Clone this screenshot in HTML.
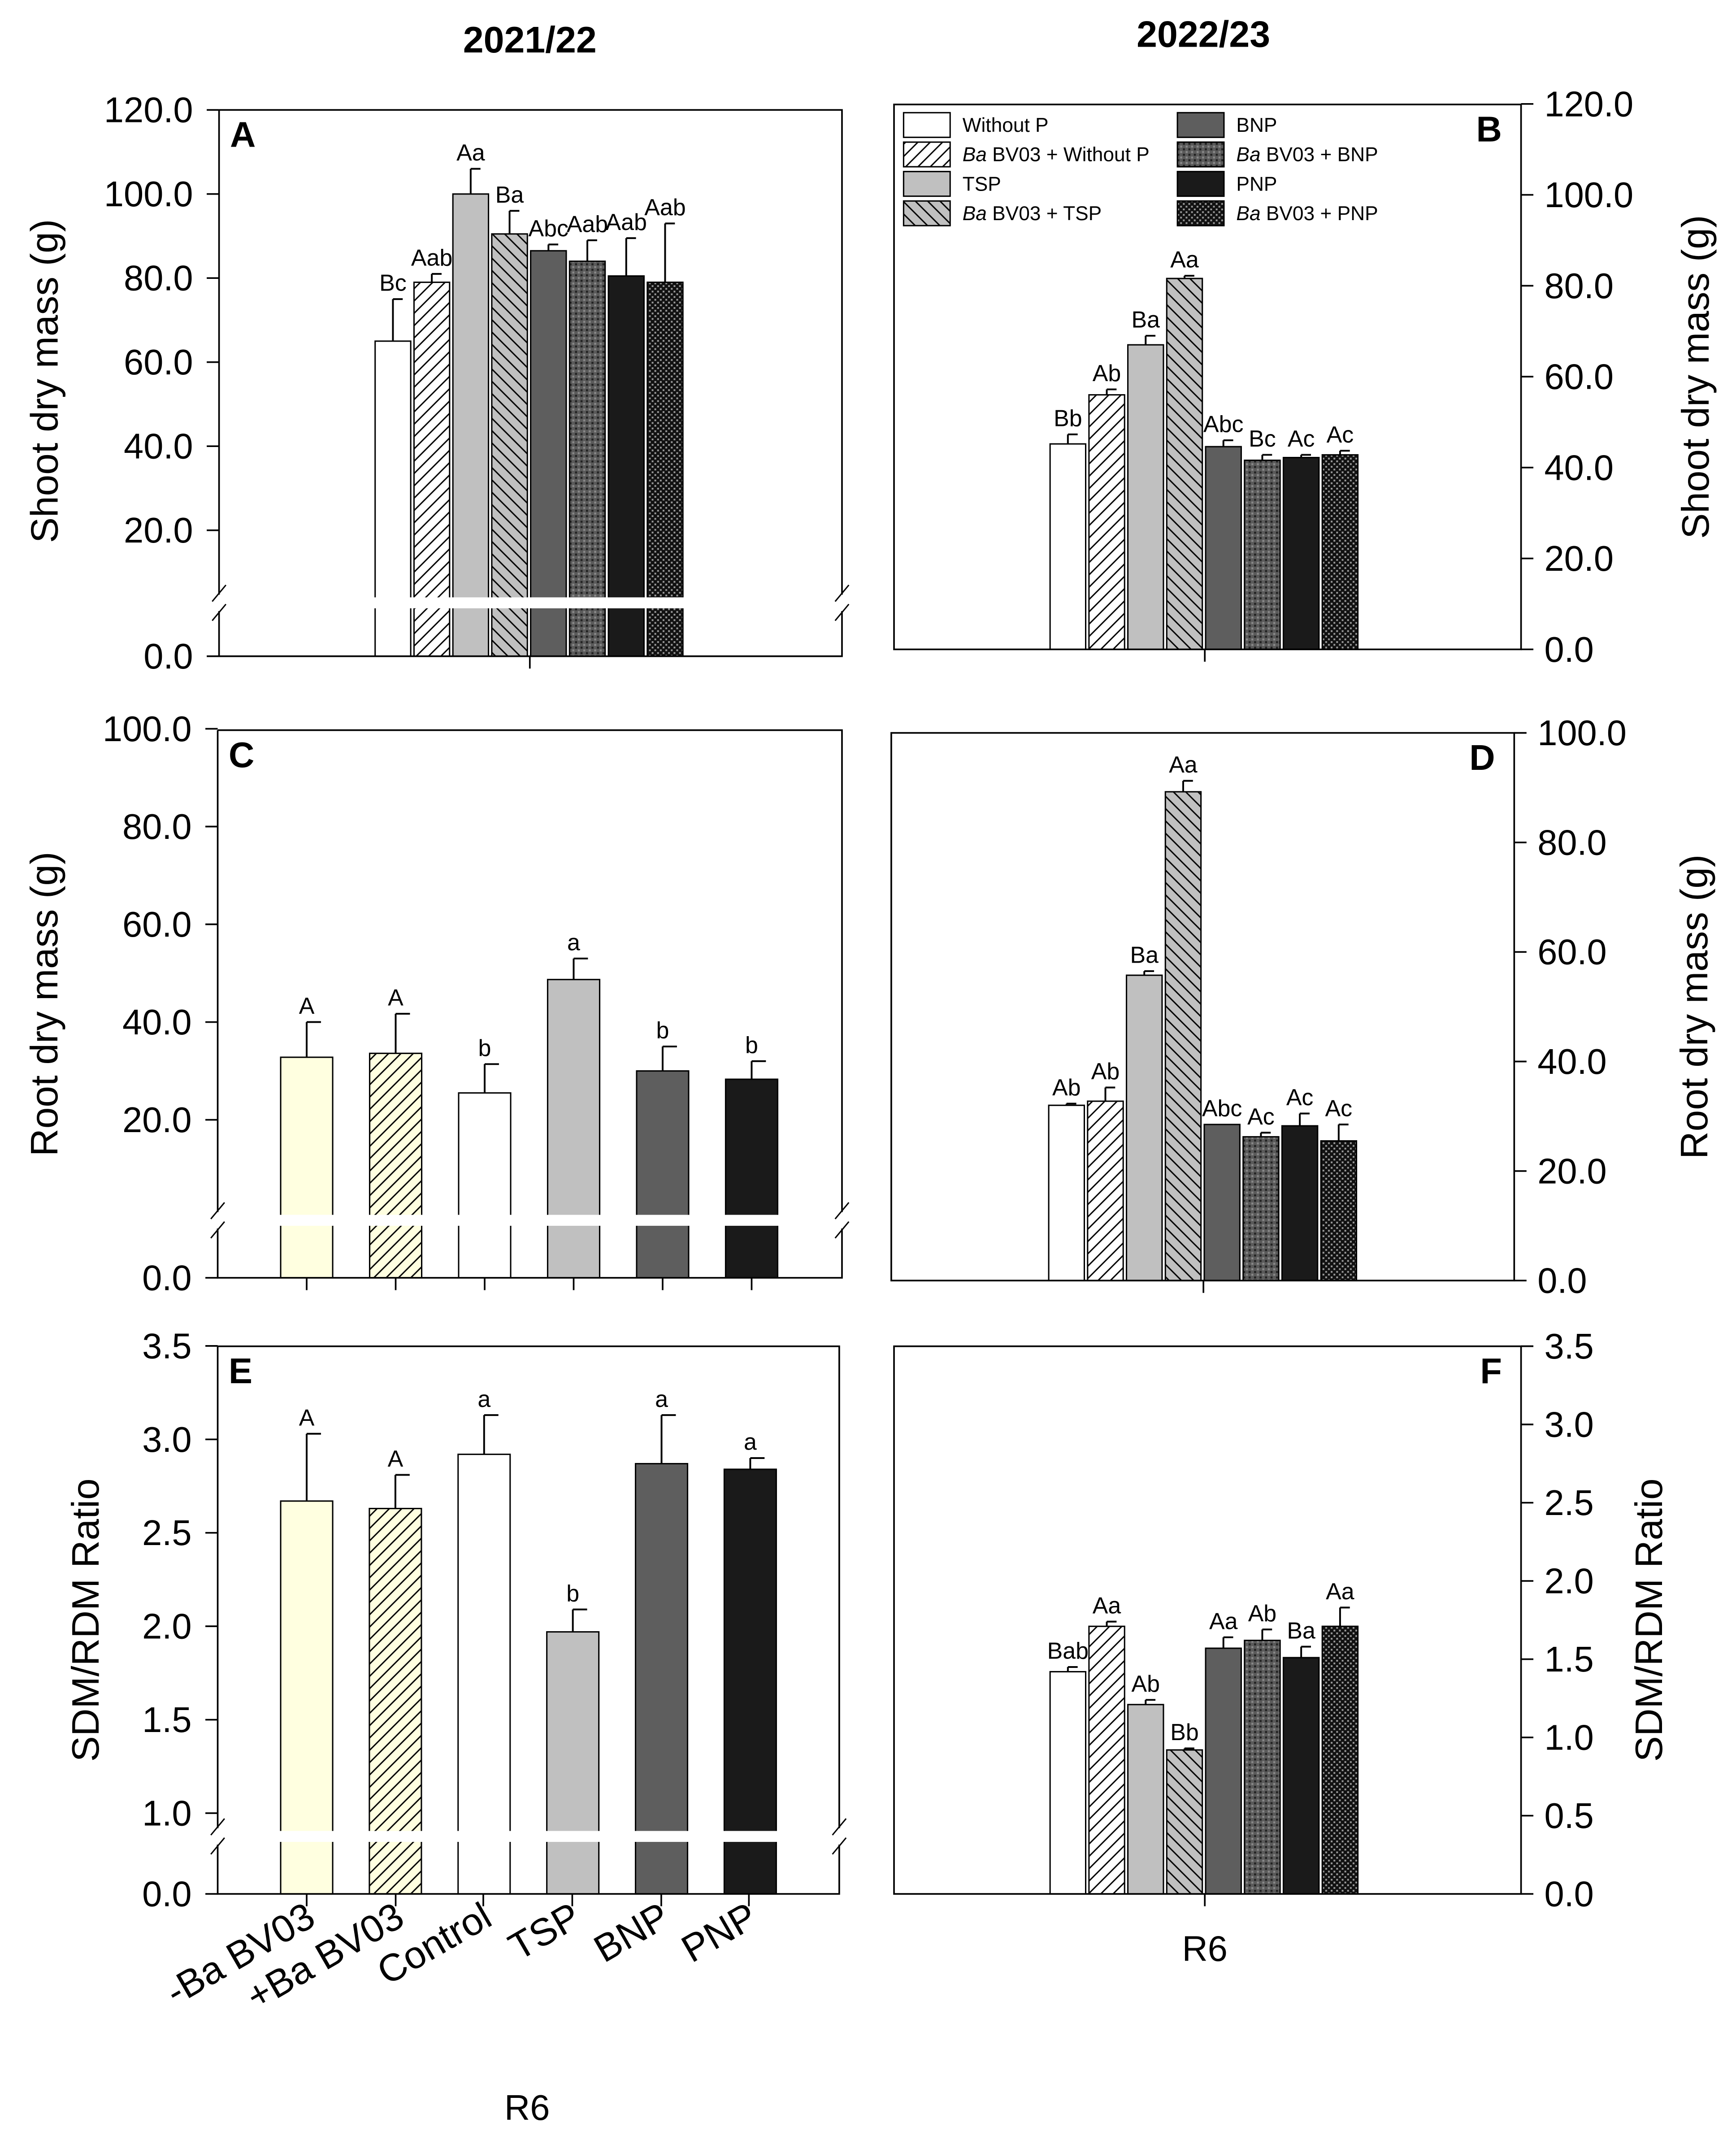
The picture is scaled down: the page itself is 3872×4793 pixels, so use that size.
<!DOCTYPE html>
<html><head><meta charset="utf-8"><style>
html,body{margin:0;padding:0;background:#fff}
svg{display:block}
text{font-family:"Liberation Sans",Arial,sans-serif}
</style></head><body>
<svg id="chart" xmlns="http://www.w3.org/2000/svg" width="3872" height="4793" viewBox="0 0 1268 1569">
<defs>
<pattern id="hatchF" patternUnits="userSpaceOnUse" width="9" height="9"><rect width="9" height="9" fill="#fff"/><path d="M-2,11 L11,-2 M-2,2 L2,-2 M7,11 L11,7" stroke="#000" stroke-width="1"/></pattern>
<pattern id="hatchY" patternUnits="userSpaceOnUse" width="9" height="9"><rect width="9" height="9" fill="#ffffe0"/><path d="M-2,11 L11,-2 M-2,2 L2,-2 M7,11 L11,7" stroke="#000" stroke-width="1"/></pattern>
<pattern id="hatchB" patternUnits="userSpaceOnUse" width="9" height="9"><rect width="9" height="9" fill="#c0c0c0"/><path d="M-2,-2 L11,11 M-2,7 L2,11 M7,-2 L11,2" stroke="#000" stroke-width="1"/></pattern>
<pattern id="dotG" patternUnits="userSpaceOnUse" width="4" height="4"><rect width="4" height="4" fill="#5a5a5a"/><rect x="0" y="0" width="1.5" height="1.5" fill="#222"/><rect x="2" y="2" width="1.5" height="1.5" fill="#888"/></pattern>
<pattern id="dotK" patternUnits="userSpaceOnUse" width="4" height="4"><rect width="4" height="4" fill="#111"/><rect x="0" y="0" width="1.3" height="1.3" fill="#999"/><rect x="2" y="2" width="1.3" height="1.3" fill="#999"/></pattern>
</defs>
<g id="root"></g>
</svg>
<script>
// ---- data ----
const catsA = ["Without P","Ba BV03 + Without P","TSP","Ba BV03 + TSP","BNP","Ba BV03 + BNP","PNP","Ba BV03 + PNP"];
const valsA = [65,79,100,90.5,86.5,84,80.5,79];
const errsA = [10,2,6,5.5,1.5,5,9,14];
const lblsA = ["Bc","Aab","Aa","Ba","Abc","Aab","Aab","Aab"];
const valsB = [45.2,56,67,81.6,44.6,41.6,42.2,42.8];
const errsB = [2.1,1.2,2,0.6,1.4,1.2,0.6,0.9];
const lblsB = ["Bb","Ab","Ba","Aa","Abc","Bc","Ac","Ac"];
const catsC = ["-Ba BV03","+Ba BV03","Control","TSP","BNP","PNP"];
const valsC = [32.8,33.6,25.5,48.7,30,28.3];
const errsC = [7.2,8.1,5.9,4.3,5,3.7];
const lblsC = ["A","A","b","a","b","b"];
const valsD = [32,32.75,55.75,89.25,28.5,26.25,28.25,25.5];
const errsD = [0.3,2.5,0.75,2,0,0.75,2.25,3];
const lblsD = ["Ab","Ab","Ba","Aa","Abc","Ac","Ac","Ac"];
const valsE = [2.67,2.63,2.92,1.97,2.87,2.84];
const errsE = [0.36,0.18,0.21,0.12,0.26,0.06];
const lblsE = ["A","A","a","b","a","a"];
const valsF = [1.42,1.71,1.21,0.92,1.57,1.62,1.51,1.71];
const errsF = [0.03,0.03,0.03,0.01,0.07,0.07,0.07,0.12];
const lblsF = ["Bab","Aa","Ab","Bb","Aa","Ab","Ba","Aa"];
const ticksA = [120,100,80,60,40,20,0];
const ticksC = [100,80,60,40,20,0];
const ticksD = [100,80,60,40,20,0];
const ticksE = [3.5,3.0,2.5,2.0,1.5,1.0,0.0];
const ticksF = [3.5,3.0,2.5,2.0,1.5,1.0,0.5,0.0];

const fill8 = ["#fff","url(#hatchF)","#c0c0c0","url(#hatchB)","#5e5e5e","url(#dotG)","#1a1a1a","url(#dotK)"];
const fill6 = ["#ffffe0","url(#hatchY)","#fff","#c0c0c0","#5e5e5e","#1a1a1a"];

const NS="http://www.w3.org/2000/svg";
const root=document.getElementById('root');
function el(tag,attrs,parent,txt){const e=document.createElementNS(NS,tag);for(const k in attrs)e.setAttribute(k,attrs[k]);if(txt!==undefined)e.textContent=txt;(parent||root).appendChild(e);return e;}

function panel(o){
  const g=el('g',{});
  
  
  const ys = v => {
    if(o.brk && v < o.brkMin) return o.bot;
    return o.y0 - v*o.k;
  };
  const xs = i => o.c0 + i*o.dx;
  o.vals.forEach((v,i)=>{
    const x=xs(i), w=o.bw, yt=ys(v);
    const r=el('rect',{x:x-w/2,y:yt,width:w,height:o.bot-yt,fill:o.fills[i],stroke:'#000','stroke-width':1},g);
    
    
    const ye=ys(v+o.errs[i]);
    if(o.errs[i]>0){
      el('line',{x1:x,x2:x,y1:yt,y2:ye,stroke:'#000','stroke-width':1.3},g);
      el('line',{x1:x,x2:x+w/2*0.55,y1:ye,y2:ye,stroke:'#000','stroke-width':1.3},g);
    }
    const t=el('text',{x:x,y:ye-6,'font-size':17,'text-anchor':'middle'},g,o.lbls[i]);
    
    
  });
  if(o.brk){
    el('rect',{x:o.l-2,y:o.brkY-4,width:o.r-o.l+8,height:8,fill:'#fff'},g);
    [o.l,o.r].forEach(xx=>{
      el('line',{x1:xx-5,y1:o.brkY-1,x2:xx+5,y2:o.brkY-13,stroke:'#000','stroke-width':1},g);
      el('line',{x1:xx-5,y1:o.brkY+13,x2:xx+5,y2:o.brkY+1,stroke:'#000','stroke-width':1},g);
    });
  }
  const axisX = o.right ? o.r : o.l;
  if(o.brk){
    el('path',{d:`M${o.l},${o.top}V${o.brkY-6}M${o.l},${o.brkY+6}V${o.bot}H${o.r}V${o.brkY+6}M${o.r},${o.brkY-6}V${o.top}H${o.l}`,fill:'none',stroke:'#000','stroke-width':1.2},g);
  } else {
    el('rect',{x:o.l,y:o.top,width:o.r-o.l,height:o.bot-o.top,fill:'none',stroke:'#000','stroke-width':1.2},g);
  }
  o.ticks.forEach(tv=>{
    const y = (tv===0 && o.brk)? o.bot : o.y0 - tv*o.k;
    const d = o.right? 1 : -1;
    el('line',{x1:axisX,x2:axisX+d*9,y1:y,y2:y,stroke:'#000','stroke-width':1.2},g);
    const t=el('text',{x:axisX+d*(o.right?17:19),y:y+9,'font-size':26,'text-anchor':o.right?'start':'end'},g,tv.toFixed(1));
    
    
  });
  o.xticks.forEach(xx=>el('line',{x1:xx,x2:xx,y1:o.bot,y2:o.bot+9,stroke:'#000','stroke-width':1.2},g));
  const L=el('text',{x:o.right?o.r-14:o.l+8,y:o.top+27,'font-size':26,'font-weight':'bold','text-anchor':o.right?'end':'start'},g,o.letter);
  
  
  const yt=el('text',{x:o.tx,y:o.ty,'font-size':28,'text-anchor':'middle',transform:`rotate(-90 ${o.tx} ${o.ty})`},g,o.title);
  
  
}

panel({letter:'A',l:160,r:615,top:80,bot:479,y0:448.4,k:3.07,brk:true,brkMin:10,brkY:440,vals:valsA,errs:errsA,lbls:lblsA,fills:fill8,c0:287,dx:28.4,bw:26,ticks:ticksA,xticks:[387],title:'Shoot dry mass (g)',tx:42,ty:278});
panel({letter:'B',l:653,r:1111,top:76,bot:474,y0:474,k:3.32,right:true,vals:valsB,errs:errsB,lbls:lblsB,fills:fill8,c0:780,dx:28.4,bw:26,ticks:ticksA,xticks:[880],title:'Shoot dry mass (g)',tx:1248,ty:275});
panel({letter:'C',l:159,r:615,top:533,bot:933,y0:889,k:3.57,brk:true,brkMin:10,brkY:891,vals:valsC,errs:errsC,lbls:lblsC,fills:fill6,c0:224,dx:65,bw:38,ticks:ticksC,xticks:[224,289,354,419,484,549],title:'Root dry mass (g)',tx:42,ty:733});
panel({letter:'D',l:651,r:1106,top:535,bot:935,y0:935,k:4.0,right:true,vals:valsD,errs:errsD,lbls:lblsD,fills:fill8,c0:779,dx:28.4,bw:26,ticks:ticksD,xticks:[879],title:'Root dry mass (g)',tx:1247,ty:735});
panel({letter:'E',l:159,r:613,top:983,bot:1383,y0:1460.5,k:136.5,brk:true,brkMin:0.8,brkY:1341,vals:valsE,errs:errsE,lbls:lblsE,fills:fill6,c0:224,dx:64.8,bw:38,ticks:ticksE,xticks:[224,289,353,418,483,547],title:'SDM/RDM Ratio',tx:72,ty:1183});
panel({letter:'F',l:653,r:1111,top:983,bot:1383,y0:1383,k:114.3,right:true,vals:valsF,errs:errsF,lbls:lblsF,fills:fill8,c0:780,dx:28.4,bw:26,ticks:ticksF,xticks:[880],title:'SDM/RDM Ratio',tx:1214,ty:1183});

[[387,38,'2021/22'],[879,34,'2022/23']].forEach(a=>{
  const t=el('text',{x:a[0],y:a[1],'font-size':27,'font-weight':'bold','text-anchor':'middle'},root,a[2]);
  
  
});
const xcE=[224,289,353,418,483,547];
catsC.forEach((c,i)=>{
  const x=xcE[i]+8,y=1405;
  const t=el('text',{x:x,y:y,'font-size':28,'text-anchor':'end',transform:`rotate(-30 ${x} ${y})`},root,c);
  
  
});
[[385,1548],[880,1432]].forEach(a=>{
  const t=el('text',{x:a[0],y:a[1],'font-size':26,'text-anchor':'middle'},root,'R6');
  
  
});
const lg=el('g',{});


catsA.forEach((c,i)=>{
  const col=Math.floor(i/4), row=i%4;
  const x= col? 860:660, y=82+row*21.5;
  el('rect',{x:x,y:y,width:34,height:18,fill:fill8[i],stroke:'#000','stroke-width':1},lg);
  const t=el('text',{x:x+43,y:y+14,'font-size':14.5},lg);
  
  
  if(c.startsWith('Ba ')){
    const s=document.createElementNS(NS,'tspan');s.setAttribute('font-style','italic');s.textContent='Ba';t.appendChild(s);
    t.appendChild(document.createTextNode(c.slice(2)));
  } else t.textContent=c;
});
</script>
</body></html>
